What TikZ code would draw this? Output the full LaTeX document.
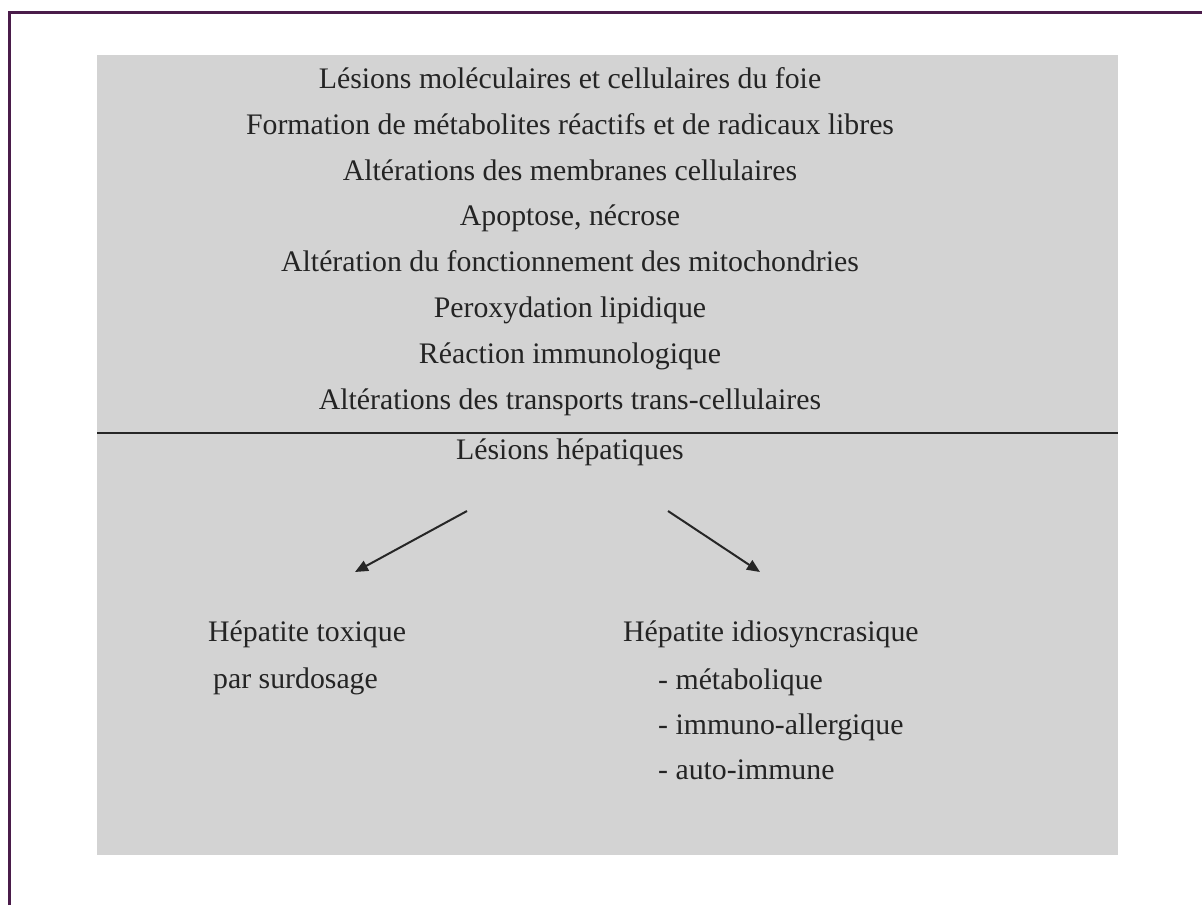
\documentclass[tikz,border=0pt]{standalone}
\usepackage{fontspec}
\setmainfont{Liberation Serif}
\usepackage{xcolor}
\usepackage{tikz}
\usetikzlibrary{arrows.meta,positioning}
\definecolor{framepurple}{RGB}{74,28,74}
\definecolor{panelgray}{RGB}{211,211,211}
\definecolor{txtgray}{RGB}{36,36,36}

\begin{document}
\begin{tikzpicture}[x=1pt,y=-1pt,
  lbl/.style={font=\fontsize{29.8}{35}\selectfont,text=txtgray,inner sep=0pt,
              text height=20pt,text depth=7pt},
  rule/.style={line width=2pt,black!85},
  harr/.style={-{Triangle[length=13pt,width=11pt]},line width=2pt,black!85}
]
\useasboundingbox (0,0) rectangle (1202,905);
\fill[white] (0,0) rectangle (1202,905);
\draw[framepurple,line width=3pt] (9.5,905) -- (9.5,12) -- (1202,12);
\fill[panelgray] (97,55) rectangle (1118,855);
% causes
\node[lbl] (l1) at (570,82) {Lésions moléculaires et cellulaires du foie};
\node[lbl,below=18.4pt of l1] (l2) {Formation de métabolites réactifs et de radicaux libres};
\node[lbl,below=18.4pt of l2] (l3) {Altérations des membranes cellulaires};
\node[lbl,below=18.4pt of l3] (l4) {Apoptose, nécrose};
\node[lbl,below=18.4pt of l4] (l5) {Altération du fonctionnement des mitochondries};
\node[lbl,below=18.4pt of l5] (l6) {Peroxydation lipidique};
\node[lbl,below=18.4pt of l6] (l7) {Réaction immunologique};
\node[lbl,below=18.4pt of l7] (l8) {Altérations des transports trans-cellulaires};
\draw[rule] (97,433) -- (1118,433);
% lesions
\node[lbl] (hep) at (570,453) {Lésions hépatiques};
\coordinate (la) at (467,511);
\coordinate (ra) at (668,511);
\node[lbl,anchor=west] (tox) at (208,635) {Hépatite toxique};
\node[lbl,anchor=west] (surd) at (213,682) {par surdosage};
\node[lbl,anchor=west] (idio) at (623,635) {Hépatite idiosyncrasique};
\node[lbl,anchor=west] (meta) at (658,683) {- métabolique};
\node[lbl,below=17.5pt of meta.south west,anchor=north west] (immu) {- immuno-allergique};
\node[lbl,below=17.5pt of immu.south west,anchor=north west] (auto) {- auto-immune};
\coordinate (lt) at (355,572);
\coordinate (rt) at (760,572);
\draw[harr] (la) -- (lt);
\draw[harr] (ra) -- (rt);
\end{tikzpicture}
\end{document}
